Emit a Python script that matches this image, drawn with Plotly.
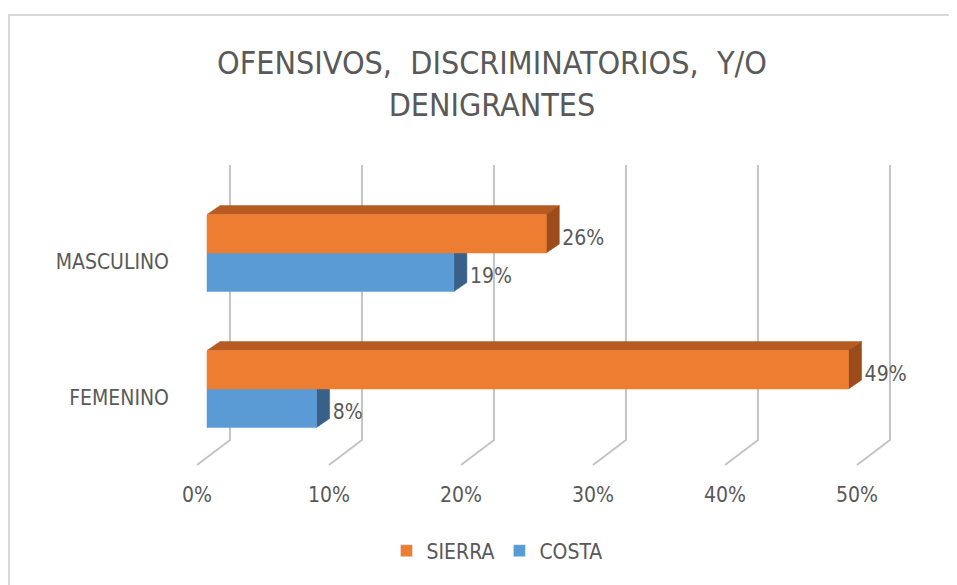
import plotly.graph_objects as go

# data
categories = ["FEMENINO", "MASCULINO"]
sierra = [0.486, 0.257]
costa = [0.083, 0.187]
x_ticks = [0, 0.1, 0.2, 0.3, 0.4, 0.5]
x_tick_labels = ["0%", "10%", "20%", "30%", "40%", "50%"]

ORANGE = "#ED7D31"
ORANGE_TOP = "#B65C22"
ORANGE_SIDE = "#9C4B1B"
BLUE = "#5B9BD5"
BLUE_TOP = "#41729E"
BLUE_SIDE = "#386089"
TXT = "#595959"
FONT = "Liberation Sans Narrow, Arial Narrow, DejaVu Sans Condensed, sans-serif"

# fake 3d geometry (in axis units)
H = 0.1415          # half height of one bar
BAR_DX, BAR_DY = 0.0099, 0.066
FLOOR_DX, WALL_DX = -0.0076, 0.0174
FLOOR_Y, BACK_Y, WALL_TOP = -0.559, -0.375, 1.647

fig = go.Figure()

# back wall gridlines + floor diagonals
gx, gy = [], []
for t in x_ticks:
    gx += [t + FLOOR_DX, t + WALL_DX, t + WALL_DX, None]
    gy += [FLOOR_Y, BACK_Y, WALL_TOP, None]
fig.add_trace(go.Scatter(x=gx, y=gy, mode="lines", line=dict(color="#C4C4C4", width=2),
                         hoverinfo="skip", showlegend=False))


def add_bar(v, yc, front, top, side, name):
    b, t = yc - H, yc + H
    faces = [
        ([0, v, v + BAR_DX, BAR_DX, 0], [t, t, t + BAR_DY, t + BAR_DY, t], top),
        ([v, v + BAR_DX, v + BAR_DX, v, v], [b, b + BAR_DY, t + BAR_DY, t, b], side),
        ([0, v, v, 0, 0], [b, b, t, t, b], front),
    ]
    for xs, ys, c in faces:
        fig.add_trace(go.Scatter(x=xs, y=ys, mode="lines", fill="toself", fillcolor=c,
                                 line=dict(color=c, width=0.5), name=name,
                                 hoverinfo="skip", showlegend=False))
    # value label, nudged a little right/down like the original
    fig.add_trace(go.Scatter(x=[v + BAR_DX + 0.0023], y=[yc - 0.044], mode="text",
                             text=[f"{round(v * 100)}%"], textposition="middle right",
                             textfont=dict(family=FONT, size=21, color=TXT),
                             hoverinfo="skip", showlegend=False))


for i, v in enumerate(costa):
    add_bar(v, i - H, BLUE, BLUE_TOP, BLUE_SIDE, "COSTA")
for i, v in enumerate(sierra):
    add_bar(v, i + H, ORANGE, ORANGE_TOP, ORANGE_SIDE, "SIERRA")

# legend entries
fig.add_trace(go.Bar(x=[None], y=[None], name="SIERRA", marker_color=ORANGE, legendrank=1))
fig.add_trace(go.Bar(x=[None], y=[None], name="COSTA", marker_color=BLUE, legendrank=2))

# pixel mapping inside the figure: x px = 199 + 1320*v, y px = 381 - 136*y
L, R, T, B = 162, 35, 142, 113
W, HGT = 957, 585
x_range = [(L - 199) / 1320, (W - R - 199) / 1320]
y_range = [(381 - (HGT - B)) / 136, (381 - T) / 136]
PW, PH = W - L - R, HGT - T - B

fig.update_layout(
    width=W, height=HGT,
    margin=dict(l=L, r=R, t=T, b=B),
    paper_bgcolor="white", plot_bgcolor="white",
    font=dict(family=FONT, size=21, color=TXT),
    title=dict(text="OFENSIVOS,  DISCRIMINATORIOS,  Y/O<br>DENIGRANTES",
               x=484 / W, xanchor="center", y=1 - 66 / HGT, yanchor="middle",
               font=dict(family=FONT, size=32, color=TXT)),
    showlegend=True,
    legend=dict(orientation="h", x=(489 - L) / PW, xanchor="center",
                y=-(543 - (HGT - B)) / PH, yanchor="middle",
                font=dict(size=21, color=TXT), itemwidth=30),
    xaxis=dict(range=x_range, showgrid=False, zeroline=False, showline=False,
               tickvals=[t + FLOOR_DX for t in x_ticks], ticktext=x_tick_labels,
               ticks="", fixedrange=True),
    yaxis=dict(range=y_range, showgrid=False, zeroline=False, showline=False,
               tickvals=[i - 0.066 for i in range(len(categories))], ticktext=categories,
               ticks="", fixedrange=True),
    shapes=[dict(type="rect", xref="paper", yref="paper",
                 x0=(1 - L) / PW, x1=1.2,
                 y0=-0.5, y1=(HGT - B - 7) / PH,
                 line=dict(color="#D9D9D9", width=2))],
)

fig.write_html("out.html")
